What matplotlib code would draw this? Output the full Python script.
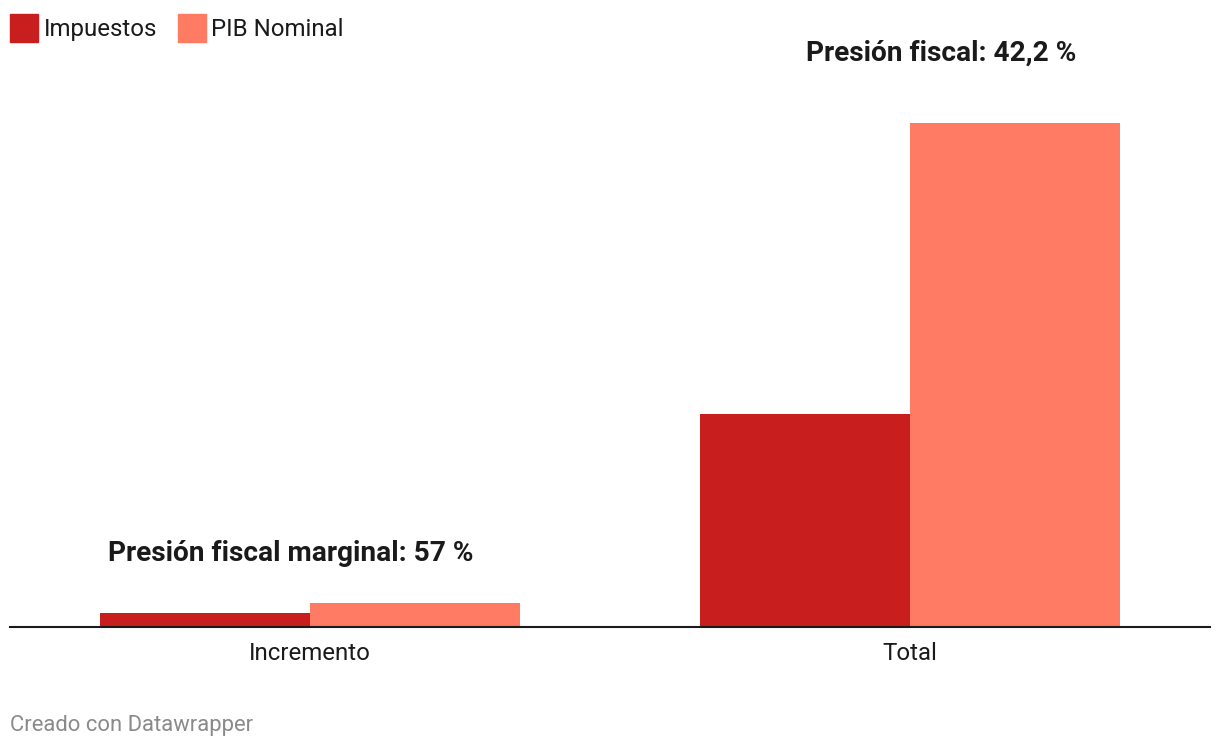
import matplotlib
matplotlib.use("Agg")
import matplotlib.pyplot as plt
from matplotlib.patches import Rectangle
import numpy as np

plt.rcParams['font.family'] = ['Roboto', 'DejaVu Sans']

categories = ["Incremento", "Total"]
series = ["Impuestos", "PIB Nominal"]
impuestos = [33.3, 506.4]
pib_nominal = [57.1, 1200.0]
annotations = ["Presión fiscal marginal: 57 %", "Presión fiscal: 42,2 %"]
colors = ["#c81e1e", "#ff7b63"]

W, H = 1220, 748
fig = plt.figure(figsize=(W/100, H/100), dpi=100)
ax = fig.add_axes([10/W, 1-627/H, 1200/W, 567/H])

x = np.arange(len(categories))
bw = 0.35
ax.bar(x - bw/2, impuestos, bw, color=colors[0], linewidth=0)
ax.bar(x + bw/2, pib_nominal, bw, color=colors[1], linewidth=0)
ax.set_xlim(-0.5, 1.5)
ax.set_ylim(0, 1200*567/504)
for s in ["top", "right", "left"]:
    ax.spines[s].set_visible(False)
ax.spines["bottom"].set_color("#1a1a1a")
ax.spines["bottom"].set_linewidth(1.5)
ax.set_yticks([])
ax.set_xticks(x)
ax.set_xticklabels(categories, fontsize=17.3, color="#1a1a1a")
ax.tick_params(axis="x", length=0, pad=11)

# annotations (free-placed text, as in the original)
ann_pos = [(108, 561), (806, 61)]
for txt, (px, py) in zip(annotations, ann_pos):
    fig.text(px/W, 1-py/H, txt, ha="left", va="baseline", fontsize=20.2,
             fontweight="bold", color="#1a1a1a")

# legend
fig.patches.append(Rectangle((10/W, 1-42/H), 28/W, 28/H, transform=fig.transFigure, color=colors[0]))
fig.text(44/W, 1-36/H, series[0], fontsize=17.3, va="baseline", ha="left", color="#1a1a1a")
fig.patches.append(Rectangle((178/W, 1-42/H), 28/W, 28/H, transform=fig.transFigure, color=colors[1]))
fig.text(211/W, 1-36/H, series[1], fontsize=17.3, va="baseline", ha="left", color="#1a1a1a")

fig.text(10/W, 1-731/H, "Creado con Datawrapper", fontsize=15.8, va="baseline", ha="left", color="#8a8a8a")

fig.savefig("out.png", dpi=100)
